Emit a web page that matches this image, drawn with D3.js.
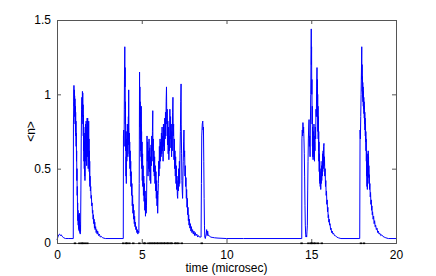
<!DOCTYPE html>
<html><head><meta charset="utf-8">
<script src="https://cdn.jsdelivr.net/npm/d3@7"></script>
<style>html,body{margin:0;padding:0;background:#fff;}svg{display:block;}</style>
</head><body>
<svg id="chart" width="436" height="276"></svg>
<script>
// ---- data ----
const xTicks = [0, 5, 10, 15, 20];
const yTicks = [0, 0.5, 1, 1.5];
const yTickLabels = ["0", "0.5", "1", "1.5"];
const xLabel = "time (microsec)";
const yLabel = "<n>";

// mean photon number <n> vs time (microsec): [t, n]
const signal = [
[0.00,0.02],[0.05,0.04],[0.10,0.055],[0.15,0.06],[0.20,0.05],[0.25,0.055],[0.30,0.045],[0.40,0.035],[0.50,0.03],[0.70,0.03],[0.96,0.03],
[0.97,0.80],[0.99,0.95],[1.00,1.06],[1.01,0.92],[1.02,1.03],[1.03,0.88],[1.04,0.99],[1.05,0.85],[1.06,0.97],[1.07,0.80],[1.08,0.92],[1.09,0.75],[1.10,0.88],[1.11,0.72],[1.12,0.82],[1.13,0.65],[1.14,0.74],[1.15,0.55],[1.16,0.62],[1.17,0.42],[1.18,0.50],[1.19,0.32],[1.20,0.38],[1.21,0.22],[1.22,0.27],[1.23,0.15],[1.24,0.22],[1.25,0.12],[1.26,0.19],[1.27,0.10],[1.28,0.18],[1.29,0.09],[1.30,0.16],[1.31,0.08],[1.32,0.20],[1.33,0.10],[1.34,0.14],[1.35,0.07],[1.36,0.12],[1.37,0.06],[1.38,0.10],[1.39,0.08],
[1.41,0.35],[1.43,0.70],[1.45,0.90],[1.47,0.98],[1.49,0.85],[1.50,1.02],[1.51,0.90],[1.52,1.01],[1.53,0.80],[1.54,0.93],[1.55,0.72],[1.56,0.86],[1.57,0.62],[1.58,0.78],[1.59,0.55],[1.60,0.74],[1.61,0.50],[1.62,0.68],[1.63,0.45],[1.64,0.65],[1.65,0.42],[1.66,0.72],[1.67,0.55],[1.68,0.80],[1.69,0.62],[1.70,0.76],[1.71,0.58],[1.72,0.82],[1.73,0.60],[1.74,0.70],[1.75,0.52],[1.76,0.78],[1.77,0.62],[1.78,0.84],[1.79,0.58],[1.80,0.75],[1.81,0.84],[1.82,0.60],[1.83,0.72],[1.84,0.50],[1.85,0.80],[1.86,0.55],[1.87,0.82],[1.88,0.60],[1.89,0.70],[1.90,0.48],[1.91,0.62],[1.92,0.42],[1.93,0.55],[1.94,0.38],[1.95,0.45],[1.97,0.35],[1.99,0.38],[2.01,0.30],[2.03,0.32],[2.05,0.25],[2.07,0.27],[2.09,0.20],[2.11,0.22],[2.13,0.16],[2.15,0.19],[2.17,0.13],[2.19,0.16],[2.21,0.10],[2.23,0.14],[2.25,0.09],[2.28,0.11],[2.31,0.07],[2.34,0.09],[2.37,0.06],[2.40,0.08],[2.45,0.05],[2.50,0.06],[2.55,0.04],[2.60,0.045],[2.70,0.035],[2.85,0.03],[3.91,0.03],
[3.92,0.72],[3.94,0.76],[3.96,0.65],[3.97,0.90],[3.98,1.10],[4.00,1.32],[4.01,1.05],[4.02,1.18],[4.03,0.80],[4.04,0.95],[4.05,0.62],[4.06,0.75],[4.07,0.45],[4.08,0.58],[4.09,0.40],[4.10,0.62],[4.11,0.70],[4.12,0.55],[4.13,0.75],[4.14,0.62],[4.15,0.80],[4.16,0.65],[4.17,0.72],[4.18,0.58],[4.19,0.78],[4.20,0.66],[4.21,0.85],[4.22,0.70],[4.23,1.03],[4.24,0.78],[4.25,0.72],[4.26,0.60],[4.27,0.74],[4.28,0.55],[4.29,0.68],[4.30,0.50],[4.32,0.62],[4.33,0.45],[4.35,0.55],[4.36,0.38],[4.38,0.48],[4.40,0.32],[4.42,0.40],[4.44,0.25],[4.46,0.32],[4.48,0.20],[4.50,0.26],[4.52,0.16],[4.54,0.22],[4.56,0.13],[4.58,0.18],[4.60,0.11],[4.62,0.14],[4.65,0.09],[4.68,0.11],[4.71,0.07],[4.74,0.09],[4.77,0.06],[4.80,0.08],[4.83,0.07],
[4.85,0.40],[4.87,1.15],[4.88,0.90],[4.89,1.05],[4.90,0.78],[4.91,0.95],[4.92,0.70],[4.93,0.88],[4.94,0.62],[4.95,0.80],[4.96,0.58],[4.97,0.92],[4.98,0.55],[4.99,0.75],[5.00,0.50],[5.02,0.68],[5.03,0.42],[5.05,0.60],[5.06,0.38],[5.08,0.52],[5.10,0.32],[5.12,0.45],[5.14,0.28],[5.16,0.40],[5.18,0.22],[5.20,0.35],[5.22,0.18],[5.24,0.30],[5.26,0.20],[5.28,0.25],[5.30,0.45],[5.31,0.72],[5.33,0.55],[5.35,0.68],[5.37,0.45],[5.39,0.62],[5.41,0.50],[5.43,0.70],[5.45,0.48],[5.47,0.64],[5.49,0.42],[5.51,0.58],[5.53,0.40],[5.55,0.66],[5.57,0.52],[5.59,0.72],[5.61,0.55],[5.63,0.75],[5.65,0.89],[5.66,0.62],[5.68,0.70],[5.70,0.48],[5.72,0.62],[5.74,0.45],[5.76,0.58],[5.78,0.40],[5.80,0.52],[5.82,0.35],[5.84,0.48],[5.86,0.30],[5.88,0.42],[5.90,0.25],[5.92,0.35],[5.94,0.20],[5.96,0.32],[5.98,0.40],
[6.00,0.55],[6.02,0.45],[6.04,0.65],[6.06,0.50],[6.08,0.70],[6.10,0.55],[6.12,0.68],[6.14,0.58],[6.16,0.74],[6.18,0.60],[6.20,0.78],[6.22,0.62],[6.24,0.72],[6.26,0.55],[6.28,0.80],[6.30,0.65],[6.32,0.76],[6.34,0.62],[6.36,0.84],[6.38,0.70],[6.40,0.88],[6.42,0.72],[6.44,0.95],[6.46,1.05],[6.48,0.80],[6.50,0.90],[6.52,0.66],[6.54,0.82],[6.56,0.60],[6.58,0.78],[6.60,0.56],[6.62,0.72],[6.64,0.62],[6.66,0.90],[6.68,0.70],[6.70,0.85],[6.72,0.64],[6.74,0.80],[6.76,0.58],[6.78,0.75],[6.80,0.62],[6.82,0.88],[6.84,0.98],[6.86,0.72],[6.88,0.80],[6.90,0.56],[6.92,0.70],[6.94,0.50],[6.96,0.62],[6.98,0.45],[7.00,0.58],[7.02,0.40],[7.04,0.52],[7.06,0.36],[7.08,0.45],[7.10,0.32],[7.12,0.30],[7.14,0.42],[7.16,0.35],[7.18,0.50],[7.20,0.38],[7.22,0.55],[7.24,0.40],[7.26,0.62],[7.28,0.75],[7.30,0.95],[7.32,1.07],[7.33,0.80],[7.35,0.60],[7.37,0.42],[7.39,0.35],[7.41,0.30],[7.43,0.45],[7.45,0.55],[7.47,0.68],[7.49,0.76],[7.51,0.58],[7.53,0.62],[7.55,0.45],[7.57,0.52],[7.59,0.38],[7.61,0.44],[7.63,0.30],[7.65,0.36],[7.67,0.24],[7.69,0.30],[7.71,0.19],[7.73,0.24],[7.75,0.15],[7.77,0.19],[7.79,0.12],[7.81,0.16],[7.84,0.10],[7.87,0.13],[7.90,0.08],[7.93,0.11],[7.96,0.07],[8.00,0.09],[8.04,0.06],[8.08,0.08],[8.12,0.05],[8.16,0.07],[8.20,0.05],[8.25,0.06],[8.30,0.04],[8.35,0.05],[8.40,0.04],[8.50,0.04],
[8.52,0.40],[8.54,0.72],[8.57,0.80],[8.60,0.82],[8.62,0.76],[8.64,0.78],[8.66,0.55],[8.68,0.30],[8.70,0.12],[8.72,0.04],[8.75,0.03],[8.80,0.06],[8.83,0.09],[8.86,0.05],[8.89,0.08],[8.92,0.05],[8.98,0.05],[9.05,0.04],[9.15,0.038],[9.30,0.035],[9.50,0.033],[10.0,0.03],[11.0,0.03],[14.44,0.03],
[14.45,0.70],[14.47,0.76],[14.49,0.72],[14.51,0.81],[14.53,0.74],[14.55,0.78],[14.57,0.70],[14.59,0.60],[14.61,0.45],[14.63,0.25],[14.65,0.12],[14.67,0.06],[14.69,0.04],[14.71,0.05],[14.73,0.04],[14.75,0.08],[14.77,0.12],[14.79,0.35],[14.81,0.55],[14.83,0.70],[14.85,0.78],[14.87,0.83],[14.89,0.65],[14.91,0.72],[14.93,0.58],[14.95,0.80],[14.97,1.00],[14.99,1.30],[15.00,1.44],[15.01,1.20],[15.02,1.32],[15.03,1.00],[15.04,1.10],[15.05,0.80],[15.06,0.92],[15.07,0.65],[15.08,0.78],[15.09,0.58],[15.10,0.70],[15.11,0.56],[15.12,0.66],[15.13,0.60],[15.14,0.75],[15.15,0.62],[15.16,0.80],[15.17,0.58],[15.18,0.72],[15.19,0.55],[15.20,0.68],[15.22,0.62],[15.24,0.78],[15.26,0.70],[15.28,0.90],[15.30,0.85],[15.32,1.05],[15.34,1.18],[15.35,0.95],[15.36,1.10],[15.37,0.85],[15.38,1.00],[15.39,0.75],[15.40,0.92],[15.41,0.70],[15.42,0.85],[15.43,0.62],[15.44,0.75],[15.45,0.55],[15.46,0.68],[15.47,0.48],[15.48,0.60],[15.49,0.42],[15.50,0.55],[15.51,0.40],[15.52,0.50],[15.53,0.38],[15.55,0.45],[15.56,0.36],[15.58,0.48],[15.59,0.40],[15.61,0.52],[15.62,0.42],[15.64,0.55],[15.65,0.45],[15.67,0.60],[15.68,0.48],[15.70,0.62],[15.71,0.50],[15.73,0.65],[15.75,0.67],[15.76,0.52],[15.78,0.58],[15.80,0.45],[15.82,0.50],[15.84,0.38],[15.86,0.42],[15.88,0.32],[15.90,0.35],[15.92,0.26],[15.94,0.29],[15.96,0.21],[15.98,0.24],[16.00,0.17],[16.02,0.19],[16.04,0.14],[16.06,0.16],[16.08,0.12],[16.11,0.13],[16.14,0.09],[16.17,0.10],[16.20,0.07],[16.24,0.08],[16.28,0.06],[16.32,0.065],[16.37,0.05],[16.42,0.05],[16.50,0.04],[16.60,0.035],[16.75,0.03],[17.86,0.03],
[17.88,0.76],[17.90,0.70],[17.92,0.85],[17.94,1.00],[17.96,1.15],[17.98,1.32],[17.99,1.10],[18.00,1.20],[18.01,1.02],[18.02,1.12],[18.03,0.98],[18.04,1.08],[18.05,0.95],[18.06,1.05],[18.07,0.92],[18.08,1.02],[18.09,0.90],[18.10,0.98],[18.11,0.87],[18.12,0.95],[18.13,0.84],[18.14,0.92],[18.15,0.80],[18.16,0.88],[18.17,0.76],[18.18,0.84],[18.19,0.72],[18.20,0.80],[18.21,0.68],[18.22,0.75],[18.23,0.62],[18.24,0.70],[18.25,0.55],[18.26,0.62],[18.27,0.45],[18.28,0.55],[18.29,0.38],[18.30,0.48],[18.31,0.36],[18.32,0.55],[18.33,0.45],[18.34,0.60],[18.35,0.50],[18.36,0.62],[18.37,0.48],[18.38,0.58],[18.39,0.44],[18.40,0.52],[18.41,0.40],[18.42,0.46],[18.44,0.36],[18.46,0.40],[18.48,0.31],[18.50,0.34],[18.52,0.26],[18.54,0.29],[18.56,0.22],[18.58,0.25],[18.60,0.19],[18.62,0.21],[18.65,0.16],[18.68,0.18],[18.71,0.13],[18.74,0.15],[18.77,0.11],[18.80,0.12],[18.84,0.09],[18.88,0.10],[18.92,0.07],[18.96,0.08],[19.00,0.06],[19.05,0.065],[19.10,0.05],[19.16,0.055],[19.22,0.045],[19.30,0.04],[19.40,0.035],[19.55,0.03],[20.0,0.03]
];

// photon click times (microsec), drawn as dots on the axis
const clickTimes = [1.06,1.32,1.45,1.52,1.65,1.79,3.91,4.07,4.13,4.27,4.50,4.86,5.13,5.20,5.39,5.50,5.59,5.70,5.78,5.90,5.98,6.10,6.18,6.30,6.37,6.50,6.57,6.70,6.77,6.96,7.05,7.16,7.36,8.54,14.43,14.83,14.97,15.03,15.15,15.25,15.40,15.62,17.93,18.11];

// ---- layout ----
const W = 436, H = 276;
const m = {left: 57, right: 40, top: 20, bottom: 33};
const svg = d3.select("#chart");
const x = d3.scaleLinear().domain([0, 20]).range([m.left, W - m.right]);
const y = d3.scaleLinear().domain([0, 1.5]).range([H - m.bottom, m.top]);
const font = "Liberation Sans, Arial, Helvetica, sans-serif";
const axisColor = "#555";

// line
svg.append("path")
  .datum(signal)
  .attr("fill", "none")
  .attr("stroke", "#0000ff")
  .attr("stroke-width", 1)
  .attr("stroke-linejoin", "round")
  .attr("d", d3.line().x(d => x(d[0])).y(d => y(d[1])));

// axes (MATLAB style: ticks inside, box)
const tl = 4;
const gx = svg.append("g").attr("transform", `translate(0,${y(0)})`)
  .call(d3.axisBottom(x).tickValues(xTicks).tickSize(-tl).tickPadding(7).tickFormat(d3.format("d")));
const gxt = svg.append("g").attr("transform", `translate(0,${y(1.5)})`)
  .call(d3.axisTop(x).tickValues(xTicks).tickSize(-tl).tickFormat(""));
const gy = svg.append("g").attr("transform", `translate(${x(0)},0)`)
  .call(d3.axisLeft(y).tickValues(yTicks).tickSize(-tl).tickPadding(6).tickFormat((d, i) => yTickLabels[i]));
const gyr = svg.append("g").attr("transform", `translate(${x(20)},0)`)
  .call(d3.axisRight(y).tickValues(yTicks).tickSize(-tl).tickFormat(""));

[gx, gxt, gy, gyr].forEach(g => {
  g.selectAll(".domain").attr("stroke", axisColor).attr("stroke-width", 1);
  g.selectAll(".tick line").attr("stroke", axisColor);
  g.selectAll("text").attr("fill", "#000").style("font-family", font).style("font-size", "12px");
});

// click markers
svg.append("g").selectAll("rect").data(clickTimes).join("rect")
  .attr("x", d => x(d) - 1.2).attr("y", y(0) - 0.5)
  .attr("width", 2.4).attr("height", 1.6)
  .attr("fill", "#000");

// labels
svg.append("text").attr("x", (x(0) + x(20)) / 2).attr("y", 272)
  .attr("text-anchor", "middle").style("font-family", font).style("font-size", "12px")
  .text(xLabel);
svg.append("text")
  .attr("transform", `translate(35,${(y(0) + y(1.5)) / 2}) rotate(-90)`)
  .attr("text-anchor", "middle").style("font-family", font).style("font-size", "12px")
  .text(yLabel);
</script>
</body></html>
